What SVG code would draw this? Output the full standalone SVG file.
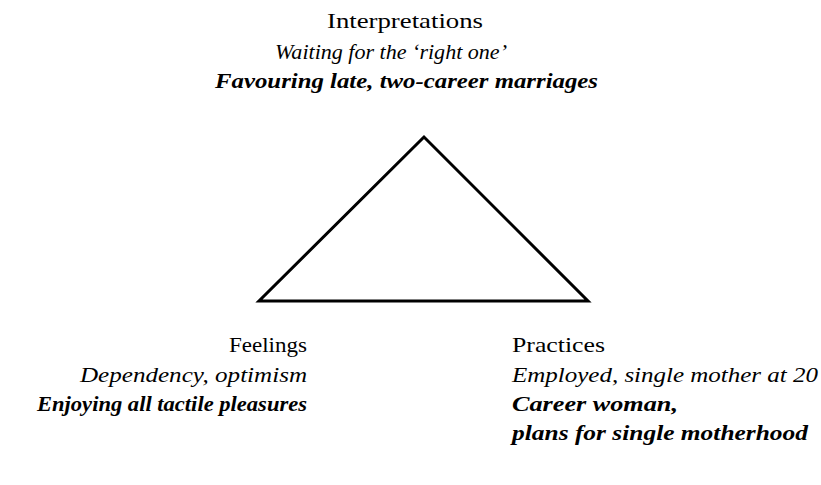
<svg xmlns="http://www.w3.org/2000/svg" width="821" height="485" viewBox="0 0 821 485">
<style>
text{font-family:"Liberation Serif","Times New Roman",Times,"DejaVu Serif",serif;font-size:22px;fill:#000}
.it{font-style:italic}
.bi{font-style:italic;font-weight:bold}
.edge{fill:none;stroke:#000;stroke-width:3;stroke-linejoin:miter}
</style>
<rect width="821" height="485" fill="#fff"/>
<g id="connectors">
<polygon class="edge" points="424,137 259,301 588,301"/>
</g>
<g id="node-interpretations">
<text x="327" y="28" textLength="156" lengthAdjust="spacingAndGlyphs">Interpretations</text>
<text class="it" x="275" y="59" textLength="232" lengthAdjust="spacingAndGlyphs">Waiting for the ‘right one’</text>
<text class="bi" x="215" y="88" textLength="383" lengthAdjust="spacingAndGlyphs">Favouring late, two-career marriages</text>
</g>
<g id="node-feelings">
<text x="229" y="352" textLength="78" lengthAdjust="spacingAndGlyphs">Feelings</text>
<text class="it" x="80" y="382" textLength="227" lengthAdjust="spacingAndGlyphs">Dependency, optimism</text>
<text class="bi" x="37" y="411" textLength="270" lengthAdjust="spacingAndGlyphs">Enjoying all tactile pleasures</text>
</g>
<g id="node-practices">
<text x="512" y="352" textLength="93" lengthAdjust="spacingAndGlyphs">Practices</text>
<text class="it" x="512" y="382" textLength="306" lengthAdjust="spacingAndGlyphs">Employed, single mother at 20</text>
<text class="bi" x="512" y="411" textLength="166" lengthAdjust="spacingAndGlyphs">Career woman,</text>
<text class="bi" x="512" y="440" textLength="296" lengthAdjust="spacingAndGlyphs">plans for single motherhood</text>
</g>
</svg>
